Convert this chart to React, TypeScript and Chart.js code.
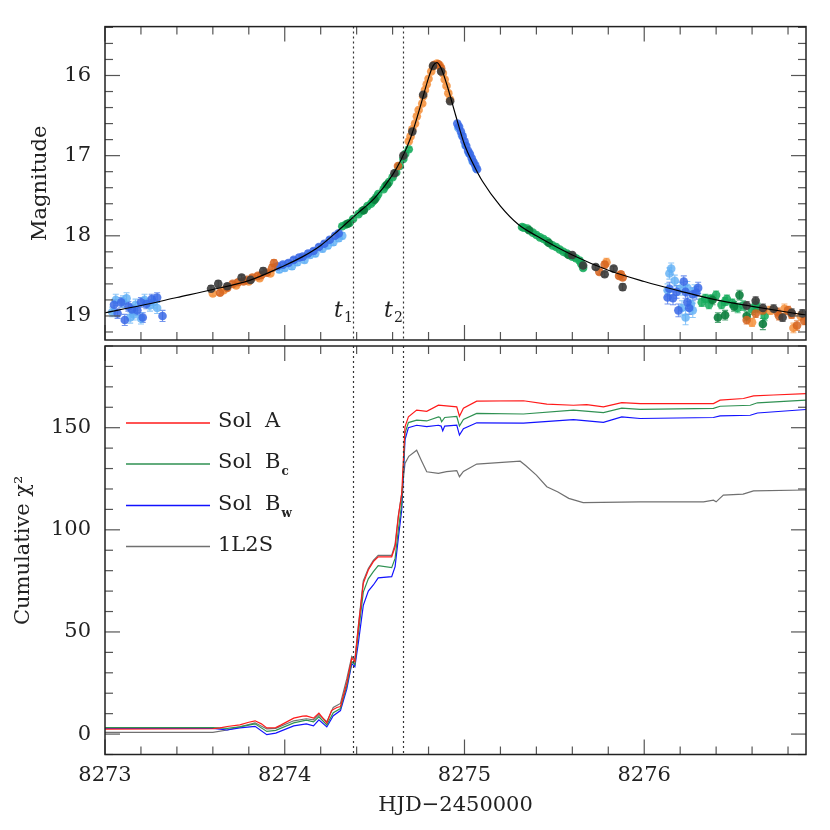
import React, { useEffect, useRef } from 'react';
import { Chart, registerables } from 'chart.js';
Chart.register(...registerables);

const FAMILY = "'DejaVu Serif', serif";

const X_MIN = 8273.0;
const X_MAX = 8276.9;
const MAG_MIN = 15.39;
const MAG_MAX = 19.3;
const CHI_MIN = -10;
const CHI_MAX = 190;

const xTicks = [8273, 8274, 8275, 8276];
const magTicks = [16, 17, 18, 19];
const chiTicks = [0, 50, 100, 150];
const markerTimes = [8274.38, 8274.658];
const markerSubs = ['1', '2'];
const seriesNames = ['Sol  A', 'Sol  B', 'Sol  B', '1L2S'];
const seriesSubs = ['', 'c', 'w', ''];

// [HJD-2450000, magnitude, error]
const blueDark: number[][] = [
  [8273.05, 18.86, 0.06], [8273.07, 18.97, 0.06], [8273.09, 18.83, 0.06], [8273.11, 19.05, 0.07],
  [8273.13, 18.88, 0.06], [8273.15, 18.92, 0.06], [8273.18, 18.93, 0.06], [8273.2, 18.83, 0.06],
  [8273.21, 19.02, 0.06], [8273.23, 18.85, 0.06], [8273.26, 18.79, 0.06], [8273.29, 18.77, 0.06],
  [8273.32, 19.0, 0.07],
  [8273.96, 18.38, 0.03], [8273.99, 18.36, 0.03], [8274.02, 18.34, 0.03], [8274.05, 18.3, 0.03],
  [8274.08, 18.27, 0.03], [8274.1, 18.26, 0.03], [8274.13, 18.22, 0.03], [8274.16, 18.19, 0.03],
  [8274.19, 18.14, 0.03], [8274.22, 18.1, 0.03], [8274.25, 18.05, 0.03], [8274.28, 18.0, 0.03],
  [8274.3, 17.97, 0.03],
  [8274.96, 16.6, 0.02], [8274.97, 16.64, 0.02], [8274.98, 16.7, 0.02], [8274.99, 16.76, 0.02],
  [8275.0, 16.82, 0.02], [8275.01, 16.88, 0.02], [8275.02, 16.94, 0.02], [8275.03, 16.98, 0.02],
  [8275.04, 17.03, 0.02], [8275.05, 17.08, 0.02], [8275.06, 17.12, 0.02], [8275.07, 17.17, 0.02],
  [8276.13, 18.77, 0.08], [8276.14, 18.66, 0.08], [8276.16, 18.78, 0.08], [8276.18, 18.7, 0.08],
  [8276.19, 18.93, 0.08], [8276.22, 18.57, 0.07], [8276.23, 18.7, 0.08], [8276.24, 18.83, 0.08],
  [8276.25, 18.9, 0.08], [8276.27, 18.73, 0.08], [8276.29, 18.71, 0.08], [8276.3, 18.65, 0.07],
];

const blueLight: number[][] = [
  [8273.04, 18.95, 0.06], [8273.06, 18.8, 0.07], [8273.1, 18.82, 0.07], [8273.12, 18.78, 0.07],
  [8273.14, 19.02, 0.07], [8273.16, 18.98, 0.07], [8273.17, 18.86, 0.07], [8273.2, 19.03, 0.07],
  [8273.22, 18.8, 0.07], [8273.25, 18.87, 0.07], [8273.27, 18.83, 0.07], [8273.29, 18.9, 0.07],
  [8273.97, 18.42, 0.04], [8274.0, 18.4, 0.04], [8274.04, 18.38, 0.04], [8274.07, 18.33, 0.04],
  [8274.11, 18.3, 0.04], [8274.14, 18.24, 0.04], [8274.17, 18.22, 0.04], [8274.21, 18.16, 0.04],
  [8274.24, 18.12, 0.04], [8274.27, 18.08, 0.04], [8274.3, 18.03, 0.04], [8274.32, 18.0, 0.04],
  [8274.965, 16.65, 0.02], [8274.985, 16.74, 0.02], [8275.005, 16.87, 0.02], [8275.025, 16.97, 0.02],
  [8275.045, 17.07, 0.02], [8275.065, 17.16, 0.02],
  [8276.13, 18.68, 0.08], [8276.14, 18.47, 0.07], [8276.15, 18.41, 0.07], [8276.17, 18.56, 0.07],
  [8276.2, 18.66, 0.08], [8276.21, 18.9, 0.09], [8276.23, 19.02, 0.09], [8276.24, 18.65, 0.08],
  [8276.26, 18.85, 0.08], [8276.27, 18.93, 0.09], [8276.28, 18.69, 0.08],
];

const orangeLight: number[][] = [
  [8273.6, 18.72, 0.03], [8273.66, 18.68, 0.03], [8273.73, 18.62, 0.03], [8273.8, 18.57, 0.03],
  [8273.86, 18.53, 0.03], [8273.92, 18.47, 0.03],
  [8274.69, 16.82, 0.02], [8274.7, 16.76, 0.02], [8274.71, 16.67, 0.02], [8274.725, 16.6, 0.02],
  [8274.735, 16.51, 0.02], [8274.745, 16.43, 0.02], [8274.765, 16.35, 0.02], [8274.77, 16.26, 0.02],
  [8274.78, 16.18, 0.02], [8274.79, 16.11, 0.02], [8274.8, 16.04, 0.02], [8274.815, 15.95, 0.02],
  [8274.825, 15.89, 0.02], [8274.847, 15.85, 0.02], [8274.864, 15.88, 0.02], [8274.88, 15.97, 0.02],
  [8274.89, 16.05, 0.02], [8274.9, 16.13, 0.02], [8274.91, 16.22, 0.02], [8274.92, 16.3, 0.02],
  [8275.79, 18.33, 0.05],
  [8276.6, 19.08, 0.05], [8276.7, 18.93, 0.05], [8276.78, 18.91, 0.06], [8276.83, 19.15, 0.06],
  [8276.87, 19.0, 0.05],
];

const orangeDark: number[][] = [
  [8273.64, 18.71, 0.03], [8273.68, 18.65, 0.03], [8273.71, 18.6, 0.03], [8273.74, 18.58, 0.03],
  [8273.77, 18.57, 0.03], [8273.79, 18.55, 0.03], [8273.82, 18.52, 0.03], [8273.85, 18.5, 0.03],
  [8273.87, 18.49, 0.03], [8273.9, 18.46, 0.03], [8273.93, 18.4, 0.04], [8273.94, 18.34, 0.04],
  [8274.63, 17.13, 0.02], [8274.83, 15.87, 0.02], [8274.855, 15.86, 0.02], [8274.87, 15.91, 0.02],
  [8275.75, 18.45, 0.03], [8275.78, 18.36, 0.04], [8275.86, 18.5, 0.03], [8275.87, 18.48, 0.03],
  [8275.88, 18.52, 0.03],
  [8276.57, 19.05, 0.05], [8276.62, 18.97, 0.05], [8276.66, 18.93, 0.05], [8276.74, 18.95, 0.05],
  [8276.75, 19.0, 0.05], [8276.8, 18.93, 0.05], [8276.82, 18.98, 0.05], [8276.85, 19.12, 0.06],
  [8276.89, 19.06, 0.05],
];

const greenLight: number[][] = [
  [8274.32, 17.88, 0.02], [8274.34, 17.86, 0.02], [8274.36, 17.84, 0.02], [8274.38, 17.79, 0.02],
  [8274.41, 17.73, 0.02], [8274.43, 17.69, 0.02], [8274.46, 17.63, 0.02], [8274.48, 17.6, 0.02],
  [8274.49, 17.57, 0.02], [8274.51, 17.52, 0.02], [8274.52, 17.48, 0.02], [8274.55, 17.42, 0.02],
  [8274.56, 17.38, 0.02], [8274.58, 17.33, 0.02], [8274.6, 17.27, 0.02], [8274.62, 17.21, 0.02],
  [8274.64, 17.13, 0.02], [8274.66, 17.04, 0.02], [8274.67, 16.98, 0.02], [8274.69, 16.92, 0.02],
  [8275.32, 17.89, 0.02], [8275.33, 17.9, 0.02], [8275.35, 17.91, 0.02], [8275.38, 17.96, 0.02],
  [8275.4, 17.99, 0.02], [8275.42, 18.02, 0.02], [8275.44, 18.04, 0.02], [8275.46, 18.07, 0.02],
  [8275.49, 18.12, 0.02], [8275.51, 18.14, 0.02], [8275.53, 18.17, 0.02], [8275.55, 18.2, 0.02],
  [8275.57, 18.22, 0.02], [8275.6, 18.26, 0.03], [8275.62, 18.28, 0.03], [8275.64, 18.31, 0.03],
  [8275.65, 18.35, 0.03], [8275.66, 18.4, 0.03],
  [8276.32, 18.83, 0.05], [8276.34, 18.78, 0.05], [8276.36, 18.86, 0.05], [8276.37, 18.79, 0.05],
  [8276.4, 18.74, 0.05], [8276.43, 18.86, 0.05], [8276.45, 18.82, 0.05], [8276.46, 18.79, 0.05],
  [8276.49, 18.84, 0.05], [8276.52, 18.9, 0.06], [8276.55, 18.87, 0.06], [8276.6, 18.92, 0.06],
  [8276.62, 18.86, 0.06], [8276.63, 18.9, 0.06], [8276.67, 19.0, 0.06],
];

const greenDark: number[][] = [
  [8274.35, 17.85, 0.02], [8274.44, 17.68, 0.02], [8274.5, 17.55, 0.02], [8274.57, 17.36, 0.02],
  [8275.36, 17.93, 0.02], [8275.47, 18.09, 0.02], [8275.58, 18.24, 0.03],
  [8276.38, 18.8, 0.06], [8276.41, 19.02, 0.06], [8276.45, 18.99, 0.06], [8276.5, 18.88, 0.06],
  [8276.53, 18.74, 0.06], [8276.57, 19.0, 0.06], [8276.66, 19.1, 0.07],
];

const grayPts: number[][] = [
  [8273.59, 18.66, 0.04], [8273.63, 18.6, 0.04], [8273.68, 18.63, 0.03], [8273.76, 18.52, 0.03],
  [8273.81, 18.55, 0.03], [8273.88, 18.44, 0.04],
  [8274.61, 17.22, 0.02], [8274.66, 17.0, 0.02], [8274.71, 16.7, 0.02], [8274.77, 16.24, 0.02],
  [8274.825, 15.88, 0.02], [8274.87, 15.95, 0.02], [8274.92, 16.32, 0.02],
  [8275.6, 18.24, 0.02], [8275.66, 18.37, 0.03], [8275.73, 18.39, 0.03], [8275.78, 18.48, 0.03],
  [8275.83, 18.41, 0.03], [8275.88, 18.64, 0.04],
  [8276.57, 18.87, 0.05], [8276.62, 18.81, 0.05], [8276.66, 18.9, 0.05], [8276.72, 18.91, 0.05],
  [8276.77, 19.02, 0.05], [8276.82, 18.96, 0.05], [8276.88, 18.97, 0.05],
];

const modelCurve: number[][] = [
  [8273.0, 18.96], [8273.2, 18.87], [8273.4, 18.77], [8273.6, 18.67], [8273.8, 18.56],
  [8274.0, 18.37], [8274.1, 18.26], [8274.2, 18.12], [8274.3, 17.93], [8274.4, 17.73],
  [8274.5, 17.53], [8274.6, 17.24], [8274.65, 17.04], [8274.7, 16.78], [8274.75, 16.42],
  [8274.8, 16.03], [8274.825, 15.88], [8274.846, 15.84], [8274.87, 15.91], [8274.9, 16.1],
  [8274.95, 16.49], [8275.0, 16.86], [8275.05, 17.11], [8275.1, 17.32], [8275.2, 17.63],
  [8275.3, 17.86], [8275.4, 18.0], [8275.6, 18.24], [8275.8, 18.43], [8276.0, 18.57],
  [8276.2, 18.69], [8276.4, 18.8], [8276.6, 18.88], [8276.9, 18.99],
];

// cumulative chi^2: [HJD-2450000, chi2]
const solA: number[][] = [
  [8273.0, 2.4], [8273.6, 2.6], [8273.64, 3.0], [8273.68, 3.7], [8273.75, 4.5], [8273.8, 5.8],
  [8273.835, 6.5], [8273.87, 5.0], [8273.9, 3.0], [8273.95, 3.2], [8273.98, 4.5], [8274.05, 7.8],
  [8274.1, 8.8], [8274.12, 8.9], [8274.16, 7.8], [8274.19, 10.3], [8274.21, 8.0], [8274.234, 5.4],
  [8274.26, 11.5], [8274.29, 13.0], [8274.31, 13.5], [8274.345, 24.9], [8274.373, 37.2],
  [8274.39, 35.5], [8274.41, 52.6], [8274.437, 73.8], [8274.465, 80.3], [8274.493, 84.4],
  [8274.52, 86.8], [8274.595, 86.8], [8274.614, 91.7], [8274.632, 106.4], [8274.651, 117.8],
  [8274.669, 150.4], [8274.688, 155.3], [8274.734, 158.6], [8274.79, 158.0], [8274.855, 161.0],
  [8274.957, 160.2], [8274.972, 155.6], [8274.994, 159.5], [8275.068, 163.0], [8275.328, 163.2],
  [8275.458, 161.5], [8275.606, 161.0], [8275.68, 161.3], [8275.773, 160.2], [8275.875, 162.3],
  [8275.977, 161.8], [8276.385, 161.8], [8276.422, 163.5], [8276.552, 164.3], [8276.608, 165.6],
  [8276.719, 166.0], [8276.9, 166.7],
];

const solBc: number[][] = [
  [8273.0, 3.2], [8273.6, 3.2], [8273.68, 2.8], [8273.75, 3.5], [8273.835, 5.0], [8273.9, 1.3],
  [8273.95, 1.8], [8274.05, 5.5], [8274.12, 6.8], [8274.16, 6.0], [8274.19, 8.5], [8274.234, 4.5],
  [8274.27, 10.5], [8274.31, 12.5], [8274.345, 23.5], [8274.373, 35.5], [8274.39, 34.0],
  [8274.41, 49.5], [8274.437, 69.5], [8274.465, 76.0], [8274.493, 79.5], [8274.52, 82.5],
  [8274.595, 81.5], [8274.614, 86.0], [8274.632, 100.0], [8274.651, 113.0], [8274.669, 147.2],
  [8274.688, 152.5], [8274.734, 153.7], [8274.79, 153.3], [8274.855, 155.3], [8274.864, 155.0],
  [8274.873, 152.9], [8274.89, 155.0], [8274.957, 155.5], [8274.972, 150.8], [8274.994, 154.0],
  [8275.068, 157.0], [8275.328, 156.7], [8275.606, 158.6], [8275.773, 157.4], [8275.875, 159.6],
  [8275.977, 159.0], [8276.385, 159.5], [8276.422, 160.5], [8276.59, 161.0], [8276.63, 162.2],
  [8276.9, 163.5],
];

const solBw: number[][] = [
  [8273.0, 2.8], [8273.6, 2.8], [8273.68, 2.0], [8273.75, 3.0], [8273.835, 3.8], [8273.9, -0.3],
  [8273.95, 0.5], [8274.05, 4.0], [8274.12, 5.0], [8274.16, 4.0], [8274.19, 7.0], [8274.234, 3.5],
  [8274.27, 9.0], [8274.31, 11.5], [8274.345, 22.0], [8274.373, 34.5], [8274.39, 33.0],
  [8274.41, 45.0], [8274.437, 63.0], [8274.465, 70.0], [8274.493, 73.0], [8274.52, 76.5],
  [8274.595, 77.1], [8274.614, 82.0], [8274.632, 96.0], [8274.651, 110.0], [8274.669, 144.0],
  [8274.688, 150.0], [8274.734, 151.2], [8274.79, 150.5], [8274.855, 151.2], [8274.87, 150.8],
  [8274.879, 148.5], [8274.89, 150.8], [8274.957, 151.3], [8274.972, 146.4], [8274.994, 149.5],
  [8275.068, 152.4], [8275.328, 152.2], [8275.606, 154.0], [8275.773, 152.6], [8275.875, 155.3],
  [8275.977, 154.5], [8276.385, 155.0], [8276.422, 155.8], [8276.59, 156.1], [8276.63, 157.2],
  [8276.9, 158.9],
];

const oneL2S: number[][] = [
  [8273.0, 0.8], [8273.6, 0.8], [8273.68, 2.0], [8273.75, 3.5], [8273.835, 5.5], [8273.9, 2.5],
  [8273.95, 2.8], [8274.05, 6.5], [8274.12, 7.5], [8274.16, 7.0], [8274.19, 9.5], [8274.234, 6.0],
  [8274.27, 13.0], [8274.31, 15.0], [8274.345, 27.0], [8274.373, 38.0], [8274.39, 36.5],
  [8274.41, 53.5], [8274.437, 75.0], [8274.465, 81.0], [8274.493, 85.0], [8274.52, 87.5],
  [8274.595, 87.5], [8274.614, 93.0], [8274.632, 107.0], [8274.651, 118.0], [8274.669, 132.5],
  [8274.69, 136.0], [8274.734, 139.0], [8274.76, 134.0], [8274.79, 128.4], [8274.855, 127.6],
  [8274.9, 128.5], [8274.957, 129.0], [8274.972, 126.0], [8274.994, 128.6], [8275.068, 132.2],
  [8275.31, 133.6], [8275.34, 131.5], [8275.4, 126.8], [8275.458, 121.1], [8275.52, 118.5],
  [8275.58, 115.4], [8275.66, 113.3], [8275.977, 113.7], [8276.33, 113.7], [8276.385, 114.5],
  [8276.4, 113.7], [8276.44, 117.0], [8276.55, 117.5], [8276.608, 119.1], [8276.9, 119.5],
];

const toPts = (a: number[][]) => a.map(([x, y, e]) => ({ x, y, e }));
const toXY = (a: number[][]) => a.map(([x, y]) => ({ x, y }));

const tickFont = { family: FAMILY, size: 21 };
const INK = '#222';

function framePlugin(id: string, yMinor: number, yMajorEvery: number, withTLabels: boolean, withLegend: boolean) {
  return {
    id,
    beforeDatasetsDraw(chart: any) {
      const { ctx, chartArea } = chart;
      const xs = chart.scales.x, ys = chart.scales.y;
      ctx.save();
      ctx.beginPath();
      ctx.rect(chartArea.left, chartArea.top, chartArea.right - chartArea.left, chartArea.bottom - chartArea.top);
      ctx.clip();
      ctx.lineWidth = 1.1;
      chart.data.datasets.forEach((ds: any) => {
        if (!ds.errColor) return;
        ctx.strokeStyle = ds.errColor;
        ds.data.forEach((p: any) => {
          const px = xs.getPixelForValue(p.x);
          const y1 = ys.getPixelForValue(p.y - p.e);
          const y2 = ys.getPixelForValue(p.y + p.e);
          ctx.beginPath();
          ctx.moveTo(px, y1); ctx.lineTo(px, y2);
          ctx.moveTo(px - 3, y1); ctx.lineTo(px + 3, y1);
          ctx.moveTo(px - 3, y2); ctx.lineTo(px + 3, y2);
          ctx.stroke();
        });
      });
      ctx.restore();
    },
    afterDraw(chart: any) {
      const { ctx, chartArea } = chart;
      const { left, right, top, bottom } = chartArea;
      const xs = chart.scales.x, ys = chart.scales.y;
      ctx.save();
      ctx.strokeStyle = '#333';
      ctx.lineWidth = 1.2;
      ctx.setLineDash([2, 3]);
      markerTimes.forEach((t) => {
        const px = Math.round(xs.getPixelForValue(t)) + 0.5;
        ctx.beginPath(); ctx.moveTo(px, top); ctx.lineTo(px, bottom); ctx.stroke();
      });
      ctx.setLineDash([]);
      ctx.strokeStyle = '#555';
      ctx.lineWidth = 1.2;
      const line = (x1: number, y1: number, x2: number, y2: number) => {
        ctx.beginPath(); ctx.moveTo(x1, y1); ctx.lineTo(x2, y2); ctx.stroke();
      };
      const k0 = Math.ceil(X_MIN / 0.2 - 1e-6), k1 = Math.floor(X_MAX / 0.2 + 1e-6);
      for (let k = k0; k <= k1; k++) {
        const v = k * 0.2;
        const major = Math.abs(v - Math.round(v)) < 1e-6;
        const len = major ? 15 : 8;
        const px = xs.getPixelForValue(v);
        line(px, top, px, top + len);
        line(px, bottom, px, bottom - len);
      }
      const ymin = Math.min(ys.min, ys.max), ymax = Math.max(ys.min, ys.max);
      const j0 = Math.ceil(ymin / yMinor - 1e-6), j1 = Math.floor(ymax / yMinor + 1e-6);
      for (let j = j0; j <= j1; j++) {
        const v = j * yMinor;
        const r = v / yMajorEvery;
        const major = Math.abs(r - Math.round(r)) < 1e-6;
        const len = major ? 15 : 8;
        const py = ys.getPixelForValue(v);
        line(left, py, left + len, py);
        line(right, py, right - len, py);
      }
      ctx.strokeStyle = INK;
      ctx.lineWidth = 1.5;
      ctx.strokeRect(left, top, right - left, bottom - top);
      ctx.fillStyle = INK;
      if (withTLabels) {
        markerTimes.forEach((t, i) => {
          const px = xs.getPixelForValue(t);
          ctx.font = `italic 22px ${FAMILY}`;
          ctx.textAlign = 'left';
          ctx.textBaseline = 'alphabetic';
          ctx.fillText('t', px - 19, 317);
          ctx.font = `14px ${FAMILY}`;
          ctx.fillText(markerSubs[i], px - 9, 322);
        });
      }
      if (withLegend) {
        const ys0 = [423, 464, 505.5, 546.5];
        chart.data.datasets.forEach((ds: any, i: number) => {
          const y = ys0[i];
          ctx.strokeStyle = ds.borderColor;
          ctx.lineWidth = 1.3;
          line(126, y, 210, y);
          ctx.fillStyle = INK;
          ctx.font = `21px ${FAMILY}`;
          ctx.textAlign = 'left';
          ctx.textBaseline = 'middle';
          ctx.fillText(seriesNames[i], 218, y - 1);
          if (seriesSubs[i]) {
            const w = ctx.measureText(seriesNames[i]).width;
            ctx.font = `bold 12px ${FAMILY}`;
            ctx.fillText(seriesSubs[i], 218 + w + 1, y + 8);
          }
        });
      }
      ctx.restore();
    },
  };
}

function ptDs(label: string, arr: number[][], color: string, err: string) {
  return {
    label,
    data: toPts(arr),
    backgroundColor: color,
    borderWidth: 0,
    pointRadius: 4.3,
    showLine: false,
    errColor: err,
  } as any;
}

function topConfig(): any {
  return {
    type: 'scatter',
    data: {
      datasets: [
        {
          label: 'model',
          data: toXY(modelCurve),
          showLine: true,
          borderColor: '#000',
          borderWidth: 1.2,
          pointRadius: 0,
          cubicInterpolationMode: 'monotone',
          fill: false,
        },
        ptDs('gray', grayPts, 'rgba(60,60,60,0.9)', 'rgba(60,60,60,0.7)'),
        ptDs('orangeDark', orangeDark, 'rgba(214,100,30,0.85)', 'rgba(214,100,30,0.7)'),
        ptDs('greenDark', greenDark, 'rgba(10,125,60,0.9)', 'rgba(10,125,60,0.7)'),
        ptDs('blueDark', blueDark, 'rgba(58,105,230,0.85)', 'rgba(58,105,230,0.7)'),
        ptDs('orangeLight', orangeLight, 'rgba(245,145,60,0.85)', 'rgba(245,145,60,0.7)'),
        ptDs('greenLight', greenLight, 'rgba(20,170,90,0.85)', 'rgba(20,170,90,0.7)'),
        ptDs('blueLight', blueLight, 'rgba(95,175,245,0.8)', 'rgba(95,175,245,0.7)'),
      ],
    },
    options: {
      animation: false,
      responsive: false,
      devicePixelRatio: 1,
      events: [],
      layout: { padding: { left: 0, right: 24, top: 25, bottom: 490 } },
      plugins: { legend: { display: false }, tooltip: { enabled: false } },
      scales: {
        x: { type: 'linear', display: false, min: X_MIN, max: X_MAX },
        y: {
          type: 'linear',
          reverse: true,
          min: MAG_MIN,
          max: MAG_MAX,
          grid: { display: false, drawTicks: false },
          border: { display: false },
          ticks: { padding: 14, font: tickFont, color: INK, callback: (v: any) => String(v) },
          afterBuildTicks: (s: any) => { s.ticks = magTicks.map((v) => ({ value: v })); },
          afterFit: (s: any) => { s.width = 105; },
          title: { display: true, text: 'Magnitude', font: tickFont, color: INK, padding: { top: 28, bottom: 0 } },
        },
      },
    },
    plugins: [framePlugin('frameTop', 0.2, 1, true, false)],
  };
}

function lineDs(label: string, arr: number[][], color: string) {
  return {
    label,
    data: toXY(arr),
    showLine: true,
    borderColor: color,
    borderWidth: 1.2,
    pointRadius: 0,
    fill: false,
  };
}

function botConfig(): any {
  return {
    type: 'scatter',
    data: {
      datasets: [
        lineDs('Sol A', solA, '#ff1a1a'),
        lineDs('Sol Bc', solBc, '#2f9152'),
        lineDs('Sol Bw', solBw, '#1212ff'),
        lineDs('1L2S', oneL2S, '#707070'),
      ],
    },
    options: {
      animation: false,
      responsive: false,
      devicePixelRatio: 1,
      events: [],
      layout: { padding: { left: 0, right: 24, top: 346, bottom: 12 } },
      plugins: { legend: { display: false }, tooltip: { enabled: false } },
      scales: {
        x: {
          type: 'linear',
          min: X_MIN,
          max: X_MAX,
          grid: { display: false, drawTicks: false },
          border: { display: false },
          ticks: { padding: 8, font: tickFont, color: INK, maxRotation: 0, autoSkip: false, callback: (v: any) => String(v) },
          afterBuildTicks: (s: any) => { s.ticks = xTicks.map((v) => ({ value: v })); },
          afterFit: (s: any) => { s.height = 63.5; },
          title: { display: true, text: 'HJD\u22122450000', font: tickFont, color: INK, padding: { top: 0, bottom: 0 } },
        },
        y: {
          type: 'linear',
          min: CHI_MIN,
          max: CHI_MAX,
          grid: { display: false, drawTicks: false },
          border: { display: false },
          ticks: { padding: 14, font: tickFont, color: INK, callback: (v: any) => String(v) },
          afterBuildTicks: (s: any) => { s.ticks = chiTicks.map((v) => ({ value: v })); },
          afterFit: (s: any) => { s.width = 105; },
          title: { display: true, text: 'Cumulative \u03c7\u00b2', font: tickFont, color: INK, padding: { top: 11, bottom: 0 } },
        },
      },
    },
    plugins: [framePlugin('frameBot', 10, 50, false, true)],
  };
}

export default function App() {
  const topRef = useRef<HTMLCanvasElement>(null);
  const botRef = useRef<HTMLCanvasElement>(null);
  useEffect(() => {
    const c2 = new Chart(botRef.current as HTMLCanvasElement, botConfig());
    const c1 = new Chart(topRef.current as HTMLCanvasElement, topConfig());
    return () => { c1.destroy(); c2.destroy(); };
  }, []);
  return (
    <div style={{ position: 'absolute', left: 0, top: 0, width: 830, height: 830, background: '#fff' }}>
      <canvas ref={botRef} width={830} height={830} style={{ position: 'absolute', left: 0, top: 0 }} />
      <canvas ref={topRef} width={830} height={830} style={{ position: 'absolute', left: 0, top: 0 }} />
    </div>
  );
}
